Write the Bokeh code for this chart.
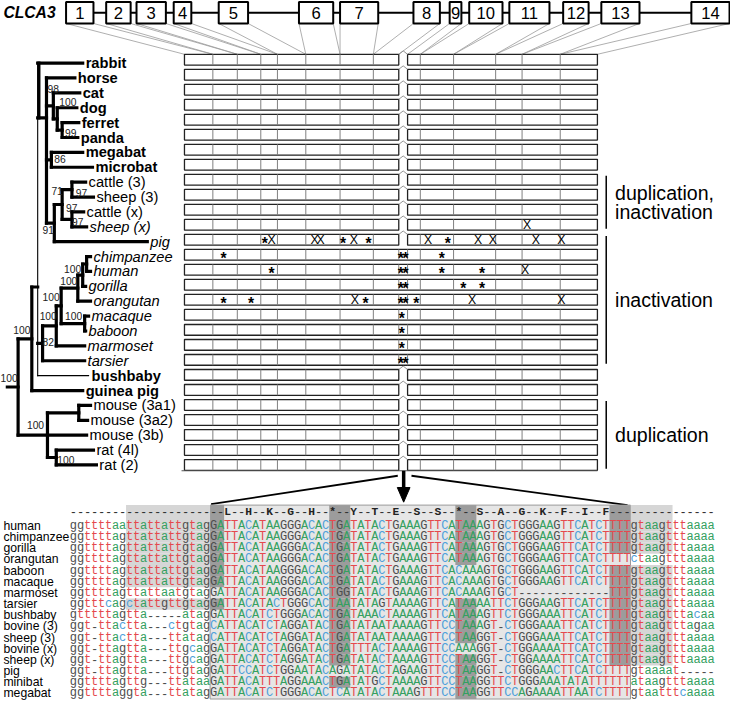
from bokeh.plotting import figure
from bokeh.models import ColumnDataSource, Range1d
from bokeh.embed import file_html
from bokeh.resources import INLINE
from bokeh.core.properties import value

# ---------------- data ----------------
gene_name = "CLCA3"
exon_labels = [str(i) for i in range(1, 15)]
# exon boundaries in the genomic diagram and in the coding-sequence bars
exon_gene_start = [67, 108, 139, 177, 223, 305, 347, 422, 459, 479, 520, 575, 614, 706]
exon_gene_end = [95, 133, 169, 195, 253, 340, 386, 449, 471, 513, 561, 601, 653, 745]
exon_cds_start = [188, 217, 242, 266, 283, 312, 347, 381, 416, 429, 463, 506, 533, 572]
exon_cds_end = [217, 242, 266, 283, 312, 347, 381, 407, 429, 463, 506, 533, 572, 610]

species = ["rabbit", "horse", "cat", "dog", "ferret", "panda", "megabat", "microbat",
           "cattle (3)", "sheep (3)", "cattle (x)", "sheep (x)", "pig", "chimpanzee",
           "human", "gorilla", "orangutan", "macaque", "baboon", "marmoset", "tarsier",
           "bushbaby", "guinea pig", "mouse (3a1)", "mouse (3a2)", "mouse (3b)",
           "rat (4l)", "rat (2)"]
species_style = ["bold"] * 8 + ["normal", "normal", "normal", "italic", "italic"] + \
    ["italic"] * 8 + ["bold", "bold"] + ["normal"] * 5
# tip of each terminal branch (tree x scale)
branch_tip = [84, 76, 81, 78, 80, 79, 84, 94, 87, 95, 85, 88, 150, 92, 92, 87, 92,
              90, 87, 86, 86, 90, 84, 92, 89, 88, 95, 98]
# internal nodes: depth (tree x scale) and children
tree_nodes = {
    "ff": (63, ["ferret", "panda"]),
    "can": (58, ["dog", "ff"]),
    "carn": (54, ["cat", "can"]),
    "bats": (52, ["megabat", "microbat"]),
    "b3": (73, ["cattle (3)", "sheep (3)"]),
    "bx": (73, ["cattle (x)", "sheep (x)"]),
    "bov": (63, ["b3", "bx"]),
    "cet": (55, ["bov", "pig"]),
    "laur": (47, ["horse", "carn", "bats", "cet"]),
    "hom2": (88, ["chimpanzee", "human"]),
    "hom3": (84, ["hom2", "gorilla"]),
    "hom4": (79, ["hom3", "orangutan"]),
    "owm": (86, ["macaque", "baboon"]),
    "catarr": (62, ["hom4", "owm"]),
    "anth": (57, ["catarr", "marmoset"]),
    "hapl": (43, ["anth", "tarsier"]),
    "euar": (38, ["rabbit", "laur", "hapl", "bushbaby"]),
    "upper": (32, ["euar", "guinea pig"]),
    "m3a": (80, ["mouse (3a1)", "mouse (3a2)"]),
    "rats": (57, ["rat (4l)", "rat (2)"]),
    "rod": (48, ["m3a", "mouse (3b)", "rats"]),
    "root": (18, ["upper", "rod"]),
}
bootstrap_values = ["98", "100", "99", "86", "71", "97", "97", "97", "91", "100", "100",
                    "100", "100", "100", "82", "100", "100", "100", "100"]
bootstrap_anchor = [(48, 90), (60, 104), (66, 136), (55, 162), (52, 195), (77, 197),
                    (67, 212), (73, 227), (43, 235), (65, 275), (61, 287), (43, 303),
                    (66, 323), (40, 323), (43, 349), (13, 337), (0, 386), (27, 434),
                    (58, 470)]

intron_retained = ["chimpanzee", "human", "gorilla", "orangutan", "macaque", "baboon",
                   "marmoset", "tarsier"]
# inactivating mutations: (species, position along the coding sequence, kind)
mutations = [
    ("sheep (x)", 538, "X"),
    ("pig", 270, "*"), ("pig", 277, "X"), ("pig", 321, "X"), ("pig", 327, "X"),
    ("pig", 350, "*"), ("pig", 361, "X"), ("pig", 376, "*"), ("pig", 437, "X"),
    ("pig", 457, "*"), ("pig", 488, "X"), ("pig", 503, "X"), ("pig", 547, "X"),
    ("pig", 573, "X"),
    ("chimpanzee", 228, "*"), ("chimpanzee", 409, "*"), ("chimpanzee", 414, "*"),
    ("chimpanzee", 451, "*"),
    ("human", 277, "*"), ("human", 409, "*"), ("human", 414, "*"), ("human", 451, "*"),
    ("human", 492, "*"), ("human", 536, "X"),
    ("gorilla", 409, "*"), ("gorilla", 414, "*"), ("gorilla", 473, "*"),
    ("gorilla", 492, "*"),
    ("orangutan", 228, "*"), ("orangutan", 256, "*"), ("orangutan", 362, "X"),
    ("orangutan", 373, "*"), ("orangutan", 409, "*"), ("orangutan", 414, "*"),
    ("orangutan", 425, "*"), ("orangutan", 482, "X"), ("orangutan", 573, "X"),
    ("macaque", 410, "*"), ("baboon", 410, "*"), ("marmoset", 410, "*"),
    ("tarsier", 409, "*"), ("tarsier", 414, "*"),
]
groups = [("cattle (3)", "sheep (x)", ["duplication,", "inactivation"]),
          ("pig", "tarsier", ["inactivation"]),
          ("mouse (3a1)", "rat (2)", ["duplication"])]

aln_species = ["human", "chimpanzee", "gorilla", "orangutan", "baboon", "macaque",
               "marmoset", "tarsier", "bushbaby", "bovine (3)", "sheep (3)",
               "bovine (x)", "sheep (x)", "pig", "minibat", "megabat"]
aln_header = "-" * 22 + "--".join("LHKGH*YTESS*SAGKFIF") + "-" * 15
aln_intron5 = ["ggttttaattattattgtag", "ggttttagttattattgtag", "ggttttagttattattgtag",
               "ggttttagttattattgtag", "ggttttagttattattgtag", "ggttttagttattattgtag",
               "ggttttagttattaatgtag", "ggtttcagctattgttgtag", "gtttttagtta-----atag",
               "ggt-ttactta---ctgtag", "ggt-ttactta---ttatag", "ggt-ttagtta---ttgcag",
               "ggt-ttagtta---ttgcag", "ggt-ttagtta---ttgtag", "ggttttagttg---ttataa",
               "ggttttaggta---ttatag"]
aln_exon = ["GATTACATAAGGGACACTGATATACTGAAAGTTCATAAAGTGCTGGGAAGTTCATCTTTT",
            "GATTACATAAGGGACACTGATATACTGAAAGTTCATAAAGTGCTGGGAAGTTCATCTTTT",
            "GATTACATAAGGGACACTGATATACTGAAAGTTCATAAAGTGCTGGGAAGTTCATCTTTT",
            "GATTACATAAGGGACACTGATATACTGAAAGTTCATAAAGTGCTGGGAAGTTCATCTTTT",
            "GATTACATAAGGGACACTGATATACTGAAAGTTCACAAAGTGCTGGGAAGTTCATCTTTT",
            "GATTACATAAGGGACACTGATATACTGAAAGTTCACAAAGTGCTGGGAAGTTCATCTTTT",
            "GATTACATAAGGGACACTGGTATACTGAAAGTTCACAAAGTGCT-------------TTT",
            "GATTACATACTGGGCACTAATATAGTAAAAGTTCATAAAATTCTGGGAAGTTCATCTTTT",
            "GATTACATCTGGGACACTGATAAACTAAAAGTTCATAAAGTTCTGGGAAATTCATCTTTT",
            "CATTACATCTAGGATACTGATATAATAAAAGTTCCTAAAGT-CTGGGAAATTCATCTTTT",
            "CATTACATCTAGGATACTGATATAATAAAAGTTCCTAAGGT-CTGGGAAATTCATCTTTT",
            "GATTACATCTAGGATACTGATTTACTAAAAGTTCCAAAGGT-CTGGAAAATTCATCTTTT",
            "GATTACATCTAGGATACTGATATACTAAAAGTTCCTAAGGT-CTGGAAAATTCATCTTTT",
            "GATTCCATCTGGAATACAGATATACTAGAAGTTCCTAAGGT-CTGGGAACTTCATCTTTT",
            "GATTACATTTAGGAAACTGATATGCTAAAAGTTCCTAAGGTTCTGGGAAATATATTTTTT",
            "GATTACATCTGGGACACTCATATACTAAAGTTTCCTAAGGTTCCAGAAAATTAATCTTTT"]
aln_intron6 = ["gtaagtttaaaa", "gtaagtttaaaa", "gtaagtttaaaa", "ctaagtttaaaa",
               "gtaagtttaaaa", "gtaagtttaaaa", "gtaagtttaaaa", "gtaagtttaaaa",
               "gtaagtttacaa", "gtaagtttagaa", "gtaagtttaaaa", "gtaagtttaaaa",
               "gtaagtttaaaa", "gtaaaat-----", "ataagtttaaaa", "gtaatttcaaaa"]
acceptor_marked = ["human", "chimpanzee", "gorilla", "orangutan", "baboon", "macaque",
                   "tarsier"]
donor_marked = ["human", "chimpanzee", "gorilla", "baboon", "macaque", "marmoset",
                "tarsier", "bushbaby", "bovine (3)", "sheep (3)", "bovine (x)",
                "sheep (x)"]
# rows whose codon is highlighted with the stop column although not a stop
stop_column_extra = ["marmoset"]

# ---------------- figure ----------------
W, H = 746, 724
PW, PH = 730, 708
S = PW / W


def fs(px):
    return value(f"{px * S:.2f}px")


SANS = value("Liberation Sans")
MONO = value("Liberation Mono")

p = figure(width=PW, height=PH, x_range=Range1d(0, W), y_range=Range1d(H, 0),
           output_backend="svg", toolbar_location=None, min_border=0,
           x_axis_location=None, y_axis_location=None)
p.grid.visible = False
p.outline_line_color = None
p.background_fill_color = "white"


def texts(xs, ys, ts, size, color="black", style="normal", font=SANS, align="left"):
    src = ColumnDataSource(dict(x=list(xs), y=list(ys), t=list(ts)))
    p.text(x="x", y="y", text="t", source=src, text_font=font, text_font_size=fs(size),
           text_color=color, text_font_style=value(style), text_align=align,
           text_baseline="middle")


# ---- gene model ----
GT, GB = 1.5, 23.5
GM = (GT + GB) / 2
p.segment(x0=[exon_gene_start[0]], y0=[GM], x1=[exon_gene_end[-1]], y1=[GM],
          line_color="black", line_width=2)
BT = 55
fx0, fy0, fx1, fy1 = [], [], [], []
for gs, ge, cs, ce in zip(exon_gene_start, exon_gene_end, exon_cds_start, exon_cds_end):
    fx0 += [gs, ge]
    fy0 += [GB, GB]
    fx1 += [cs, ce]
    fy1 += [BT, BT]
p.segment(x0=fx0, y0=fy0, x1=fx1, y1=fy1, line_color="#9a9a9a", line_width=0.8)
p.quad(left=exon_gene_start, right=exon_gene_end, top=GT, bottom=GB,
       fill_color="white", line_color="black", line_width=2)
texts([(a + b) / 2 for a, b in zip(exon_gene_start, exon_gene_end)], [GM + 0.5] * 14,
      exon_labels, 17, align="center")
texts([3], [GM], [gene_name], 16, style="bold italic")

# ---- coding sequence bars ----
n = len(species)
bar_y = [60.5 + 15.35 * i for i in range(n)]
tree_y = [64 + 15.22 * i for i in range(n)]
half = 5.5
ql, qr, qt, qb = [], [], [], []
cx, cy = [], []
dx0, dy0, dy1 = [], [], []
gap_l, gap_r = exon_cds_end[7], exon_cds_start[8]
inner = exon_cds_end[:7] + exon_cds_end[8:13]
for sp, y in zip(species, bar_y):
    top, bot = y - half, y + half
    if sp in intron_retained:
        ql.append(exon_cds_start[0]); qr.append(exon_cds_end[-1])
        qt.append(top); qb.append(bot)
        cuts = inner + [gap_l, gap_r]
    else:
        ql += [exon_cds_start[0], gap_r]; qr += [gap_l, exon_cds_end[-1]]
        qt += [top, top]; qb += [bot, bot]
        cx.append([gap_l, (gap_l + gap_r) / 2, gap_r])
        cy.append([top, top - 3.5, top])
        cuts = inner
    for c in cuts:
        dx0.append(c); dy0.append(top); dy1.append(bot)
p.quad(left=ql, right=qr, top=qt, bottom=qb, fill_color="white", line_color="#222222",
       line_width=1.3)
p.segment(x0=dx0, y0=dy0, x1=dx0, y1=dy1, line_color="#808080", line_width=1)
p.multi_line(xs=cx, ys=cy, line_color="#888888", line_width=0.9)

row_of = {s: i for i, s in enumerate(species)}
sx = [m[1] for m in mutations if m[2] == "*"]
sy = [bar_y[row_of[m[0]]] + 3.7 for m in mutations if m[2] == "*"]
texts(sx, sy, ["*"] * len(sx), 16, style="bold", align="center")
xx = [m[1] for m in mutations if m[2] == "X"]
xy = [bar_y[row_of[m[0]]] + 0.5 for m in mutations if m[2] == "X"]
texts(xx, xy, ["X"] * len(xx), 12.5, align="center")

# ---- tree ----
tip_of = dict(zip(species, branch_tip))
y_override = {"laur": 120.0, "euar": 293.0}


def node_y(nm):
    if nm in row_of:
        return tree_y[row_of[nm]]
    if nm in y_override:
        return y_override[nm]
    ys = [node_y(c) for c in tree_nodes[nm][1]]
    return (min(ys) + max(ys)) / 2


def node_x(nm):
    return tip_of[nm] if nm in tip_of else tree_nodes[nm][0]


THICK, THIN = 3.2, 1.1
sx0, sy0, sx1, sy1, sw = [], [], [], [], []
for nm, (x, ch) in tree_nodes.items():
    ys = [node_y(c) for c in ch]
    vw = THIN if nm == "euar" else THICK
    sx0.append(x); sy0.append(min(ys)); sx1.append(x); sy1.append(max(ys)); sw.append(vw)
    for c, yc in zip(ch, ys):
        w = THIN if c == "bushbaby" else THICK
        sx0.append(x); sy0.append(yc); sx1.append(node_x(c)); sy1.append(yc); sw.append(w)
# thick upper part of the euarchontoglires stem and root stub
ex = tree_nodes["euar"][0] + 1.2
sx0 += [ex, 7]; sy0 += [tree_y[0], node_y("root")]
sx1 += [ex, tree_nodes["root"][0]]; sy1 += [node_y("laur"), node_y("root")]
sw += [THICK, THICK]
src = ColumnDataSource(dict(x0=sx0, y0=sy0, x1=sx1, y1=sy1, w=sw))
p.segment(x0="x0", y0="y0", x1="x1", y1="y1", line_width="w", source=src,
          line_color="black", line_cap="square")

for st in ["bold", "normal", "italic"]:
    idx = [i for i in range(n) if species_style[i] == st]
    texts([branch_tip[i] + 3 for i in idx], [tree_y[i] for i in idx],
          [species[i] for i in idx], 15, style=st)
texts([a[0] for a in bootstrap_anchor], [a[1] for a in bootstrap_anchor],
      bootstrap_values, 10.5, color="#222222")

# ---- group annotations ----
gx0, gy0, gy1 = [], [], []
lx, ly, lt = [], [], []
for first, last, lines in groups:
    y0 = bar_y[row_of[first]] - 4
    y1 = bar_y[row_of[last]] + 4
    gx0.append(619); gy0.append(y0); gy1.append(y1)
    mid = (y0 + y1) / 2
    for k, t in enumerate(lines):
        lx.append(628)
        ly.append(mid + (k - (len(lines) - 1) / 2) * 19)
        lt.append(t)
p.segment(x0=gx0, y0=gy0, x1=gx0, y1=gy1, line_color="black", line_width=1.5)
texts(lx, ly, lt, 20)

# ---- zoom connector ----
LY = bar_y[-1] + 6
p.segment(x0=[185], y0=[LY], x1=[exon_cds_end[-1]], y1=[LY], line_color="#555555",
          line_width=1.1)
AX = (gap_l + gap_r) / 2 + 0.5
p.segment(x0=[AX], y0=[LY], x1=[AX], y1=[499], line_color="black", line_width=3.5)
p.patch(x=[AX - 6.5, AX + 6.5, AX], y=[498, 498, 513], fill_color="black",
        line_color="black")

# ---- alignment ----
X0, CW = 71.0, 7.16
HY = 523.0
RY0, RP = 537.3, 11.42
BOX_T = 516.0


def colx(i):
    return X0 + i * CW


rows = [a + b + c for a, b, c in zip(aln_intron5, aln_exon, aln_intron6)]
ex0 = len(aln_intron5[0])
ex1 = ex0 + len(aln_exon[0])
p.segment(x0=[colx(ex0) + 1, colx(ex1) - 3], y0=[BOX_T - 1, BOX_T],
          x1=[406, 420], y1=[486, 486], line_color="black", line_width=1.8)
nr = len(rows)
row_y = [RY0 + RP * i for i in range(nr)]
p.quad(left=[colx(ex0)], right=[colx(ex1)], top=[BOX_T], bottom=[row_y[-1] + RP / 2],
       fill_color="#e6e6e6", line_color="#9a9a9a", line_width=1)


def shade(row_idx, c0, c1, color):
    L, R, T, B = [], [], [], []
    for r in row_idx:
        t = row_y[r] - RP / 2
        if r == 0:
            t = BOX_T
        L.append(colx(c0)); R.append(colx(c1)); T.append(t); B.append(row_y[r] + RP / 2)
    p.quad(left=L, right=R, top=T, bottom=B, fill_color=color, line_color=None)


acc = [i for i, s in enumerate(aln_species) if s in acceptor_marked]
don = [i for i, s in enumerate(aln_species) if s in donor_marked]
shade(acc, 8, ex0, "#d6d6d6")
shade(acc, ex0, ex0 + 2, "#9c9c9c")
shade(don, ex1, ex1 + 6, "#d6d6d6")
shade(don, ex1 - 3, ex1, "#9c9c9c")
stops = {"TAA", "TAG", "TGA"}
first_stop = aln_header.index("*")
for k, aa in enumerate(aln_header):
    if aa == "*":
        hit = [r for r in range(nr) if rows[r][k:k + 3].upper() in stops
               or (k == first_stop and aln_species[r] in stop_column_extra)]
        shade(hit, k, k + 3, "#9c9c9c")

palette = {"a": "#34a060", "t": "#e5484d", "c": "#4ea0da", "g": "#4d4d4d", "-": "#4d4d4d"}
ax_, ay_, at_, ac_ = [], [], [], []
for r, seq in enumerate(rows):
    for i, ch in enumerate(seq):
        ax_.append(colx(i) + CW / 2); ay_.append(row_y[r]); at_.append(ch)
        ac_.append(palette[ch.lower()])
src = ColumnDataSource(dict(x=ax_, y=ay_, t=at_, c=ac_))
p.text(x="x", y="y", text="t", text_color="c", source=src, text_font=MONO,
       text_font_size=fs(12.3), text_align="center", text_baseline="middle")
hd = [i for i, ch in enumerate(aln_header) if ch == "-"]
texts([colx(i) + CW / 2 for i in hd], [HY] * len(hd), ["-"] * len(hd), 12.3,
      color="#333333", font=MONO, align="center")
ha = [i for i, ch in enumerate(aln_header) if ch != "-"]
texts([colx(i) + CW / 2 for i in ha], [HY] * len(ha), [aln_header[i] for i in ha], 11.5,
      color="#222222", style="bold", font=MONO, align="center")
texts([3] * nr, row_y, aln_species, 12.5)

open("out.html", "w").write(file_html(p, INLINE))
